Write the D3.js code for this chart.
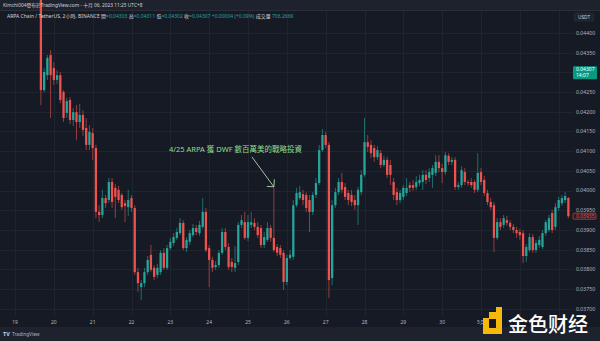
<!DOCTYPE html>
<html><head><meta charset="utf-8">
<script src="https://cdn.jsdelivr.net/npm/d3@7"></script>
<style>
html,body{margin:0;padding:0;background:#161a25;}
svg{display:block;}
text{font-family:"Noto Sans","Noto Sans CJK TC",sans-serif;}
</style></head><body>
<svg id="c" width="600" height="341"></svg>
<script>
// ---------- DATA ----------
const startTime = "2023-04-19T16:00:00Z";   // first 2h bar
const intervalHours = 2;
const open = [0.04491,0.04255,0.04293,0.04344,0.04311,0.04281,0.04293,0.04250,0.04197,0.04230,
0.04179,0.04199,0.04174,0.04192,0.04159,0.04116,0.04146,0.04108,0.03946,0.03938,
0.03981,0.03976,0.04022,0.04007,0.04002,0.03989,0.03968,0.03958,0.03981,0.03956,
0.03793,0.03755,0.03765,0.03793,0.03837,0.03804,0.03786,0.03793,0.03842,0.03804,
0.03854,0.03867,0.03880,0.03892,0.03918,0.03854,0.03870,0.03887,0.03905,0.03892,
0.03908,0.03946,0.03854,0.03824,0.03806,0.03811,0.03842,0.03895,0.03857,0.03819,
0.03804,0.03819,0.03913,0.03920,0.03880,0.03913,0.03918,0.03908,0.03905,0.03862,
0.03875,0.03905,0.03880,0.03857,0.03854,0.03842,0.03768,0.03829,0.03832,0.03963,
0.03981,0.03991,0.03989,0.03976,0.03946,0.03989,0.04019,0.04103,0.04141,0.04116,
0.03778,0.03963,0.03996,0.04022,0.04009,0.03994,0.03989,0.03976,0.03963,0.03996,
0.04040,0.04123,0.04116,0.04108,0.04085,0.04095,0.04065,0.04078,0.04065,0.04022,
0.03996,0.03976,0.03984,0.03994,0.04014,0.04014,0.04009,0.04019,0.04022,0.04040,
0.04032,0.04040,0.04045,0.04073,0.04057,0.04047,0.04088,0.04073,0.04078,0.04009,
0.04014,0.04047,0.04022,0.04022,0.04022,0.04002,0.04047,0.04027,0.03994,0.03971,
0.03963,0.03880,0.03920,0.03913,0.03925,0.03918,0.03908,0.03900,0.03895,0.03892,
0.03834,0.03849,0.03882,0.03849,0.03862,0.03857,0.03892,0.03900,0.03943,0.03908,
0.03956,0.03968,0.03976,0.03981];
const close = [0.04255,0.04301,0.04337,0.04293,0.04281,0.04293,0.04230,0.04184,0.04227,0.04179,
0.04199,0.04174,0.04192,0.04154,0.04116,0.04149,0.04108,0.03946,0.03938,0.03981,
0.03968,0.04022,0.03971,0.03984,0.03976,0.03958,0.03961,0.03976,0.03956,0.03793,
0.03765,0.03765,0.03793,0.03824,0.03799,0.03781,0.03804,0.03842,0.03804,0.03854,
0.03870,0.03882,0.03895,0.03918,0.03854,0.03875,0.03892,0.03905,0.03895,0.03913,
0.03946,0.03849,0.03824,0.03804,0.03811,0.03842,0.03895,0.03857,0.03806,0.03806,
0.03816,0.03913,0.03925,0.03880,0.03920,0.03920,0.03908,0.03887,0.03862,0.03882,
0.03905,0.03880,0.03849,0.03842,0.03837,0.03768,0.03829,0.03837,0.03963,0.03994,
0.03996,0.03976,0.03956,0.03946,0.03989,0.04019,0.04103,0.04141,0.04116,0.03773,
0.03963,0.03996,0.04022,0.04002,0.03984,0.03976,0.03971,0.03963,0.04002,0.04040,
0.04123,0.04111,0.04095,0.04085,0.04103,0.04065,0.04078,0.04040,0.04040,0.03989,
0.03976,0.03994,0.04007,0.04007,0.04007,0.04007,0.04022,0.04027,0.04040,0.04027,
0.04047,0.04057,0.04073,0.04057,0.04047,0.04090,0.04073,0.04078,0.04009,0.04014,
0.04052,0.04022,0.04019,0.04014,0.04002,0.04045,0.04022,0.03994,0.03971,0.03958,
0.03880,0.03920,0.03908,0.03930,0.03918,0.03908,0.03900,0.03892,0.03887,0.03834,
0.03857,0.03882,0.03849,0.03867,0.03875,0.03892,0.03920,0.03930,0.03900,0.03958,
0.03976,0.03981,0.03986,0.03935];
const high = [0.04504,0.04311,0.04344,0.04357,0.04326,0.04306,0.04301,0.04255,0.04235,0.04237,
0.04210,0.04217,0.04220,0.04204,0.04184,0.04166,0.04159,0.04116,0.03963,0.04002,
0.03989,0.04032,0.04032,0.04017,0.04012,0.03994,0.03976,0.04002,0.03989,0.03963,
0.03804,0.03773,0.03804,0.03834,0.03862,0.03811,0.03814,0.03849,0.03854,0.03862,
0.03880,0.03892,0.03905,0.03930,0.03925,0.03882,0.03900,0.03915,0.03913,0.03923,
0.03981,0.03956,0.03862,0.03832,0.03821,0.03849,0.03905,0.03905,0.03867,0.03829,
0.03859,0.03920,0.03938,0.03946,0.03938,0.03946,0.03930,0.03920,0.03913,0.03895,
0.03920,0.03913,0.04007,0.03864,0.03862,0.03849,0.03837,0.03849,0.03976,0.04007,
0.04012,0.04002,0.03996,0.03989,0.03996,0.04032,0.04116,0.04156,0.04149,0.04123,
0.03976,0.04007,0.04032,0.04045,0.04019,0.04002,0.04002,0.03989,0.04009,0.04052,
0.04184,0.04141,0.04128,0.04116,0.04113,0.04103,0.04088,0.04085,0.04078,0.04032,
0.04007,0.04002,0.04014,0.04032,0.04022,0.04027,0.04037,0.04040,0.04052,0.04052,
0.04057,0.04065,0.04090,0.04090,0.04068,0.04098,0.04095,0.04085,0.04085,0.04022,
0.04062,0.04057,0.04027,0.04032,0.04027,0.04095,0.04057,0.04037,0.04002,0.03981,
0.03971,0.03930,0.03930,0.03938,0.03936,0.03925,0.03915,0.03908,0.03903,0.03900,
0.03864,0.03892,0.03890,0.03875,0.03885,0.03900,0.03925,0.03938,0.03951,0.03968,
0.03984,0.03989,0.03996,0.03984];
const low = [0.04217,0.04250,0.04281,0.04184,0.04268,0.04271,0.04222,0.04174,0.04184,0.04169,
0.04164,0.04128,0.04159,0.04139,0.04103,0.04103,0.04078,0.03930,0.03920,0.03930,
0.03956,0.03968,0.03956,0.03930,0.03968,0.03951,0.03920,0.03936,0.03946,0.03786,
0.03743,0.03722,0.03755,0.03786,0.03793,0.03773,0.03778,0.03786,0.03799,0.03799,
0.03849,0.03859,0.03875,0.03887,0.03849,0.03844,0.03862,0.03882,0.03887,0.03885,
0.03903,0.03844,0.03755,0.03793,0.03799,0.03804,0.03837,0.03849,0.03799,0.03793,
0.03793,0.03811,0.03905,0.03875,0.03872,0.03905,0.03900,0.03880,0.03854,0.03854,
0.03870,0.03870,0.03844,0.03834,0.03829,0.03748,0.03760,0.03824,0.03824,0.03958,
0.03976,0.03963,0.03946,0.03895,0.03938,0.03981,0.04014,0.04098,0.04108,0.03727,
0.03760,0.03956,0.03989,0.03994,0.03976,0.03963,0.03961,0.03951,0.03913,0.03989,
0.04035,0.04098,0.04083,0.04073,0.04078,0.04057,0.04060,0.04032,0.04014,0.03976,
0.03963,0.03968,0.03976,0.03986,0.03996,0.03999,0.04002,0.04012,0.04002,0.04017,
0.04022,0.04007,0.04037,0.04047,0.04019,0.04040,0.04065,0.04065,0.04002,0.04002,
0.04007,0.04014,0.04012,0.04007,0.03994,0.03996,0.04014,0.03986,0.03963,0.03951,
0.03844,0.03875,0.03900,0.03905,0.03910,0.03900,0.03892,0.03880,0.03875,0.03816,
0.03819,0.03844,0.03842,0.03842,0.03854,0.03852,0.03885,0.03895,0.03892,0.03900,
0.03948,0.03961,0.03968,0.03930];
const priceTicks = [0.03700,0.03750,0.03800,0.03850,0.03900,0.03950,0.04000,0.04050,
                    0.04100,0.04150,0.04200,0.04250,0.04300,0.04350,0.04400];
const dayTicks = ["2023-04-19","2023-04-20","2023-04-21","2023-04-22","2023-04-23","2023-04-24",
                  "2023-04-25","2023-04-26","2023-04-27","2023-04-28","2023-04-29","2023-04-30",
                  "2023-05-01","2023-05-02","2023-05-03"];
const dayLabels = ["19","20","21","22","23","24","25","26","27","28","29","30","5月"];
const currentPrice = 0.04307, currentCountdown = "14:07";
const lastPrice = 0.03935;
const annotation = {index:72, text:"4/25 ARPA 獲 DWF 數百萬美的戰略投資"};
const titleText = "Kimchi004發布於TradingView.com - 十月 06, 2023 11:25 UTC+8";
const symbolText = "ARPA Chain / TetherUS, 2小時, BINANCE";
const legend = [["開","=0.04303"],["高","=0.04311"],["低","=0.04302"],["收","=0.04307 +0.00004 (+0.09%)"],["成交量"," 706.266K"]];

// ---------- LAYOUT ----------
const W=600,H=341, plotR=573, plotB=316;
const UP="#26a69a", DN="#ef5350", BG="#161a25", GRID="#20242f", TXT="#b2b5be";
const svg=d3.select("#c");
svg.append("rect").attr("width",W).attr("height",H).attr("fill",BG);

const x=d3.scaleUtc().domain([d3.isoParse("2023-04-19T00:00:00Z"),d3.isoParse("2023-05-01T00:00:00Z")]).range([15,481]);
const y=d3.scaleLinear().domain([0.037,0.044]).range([308.8,33]);
const t0=d3.isoParse(startTime);
const bars=open.map((o,i)=>({t:new Date(+t0+i*intervalHours*3600e3),o,c:close[i],h:high[i],l:low[i]}));
const step=x(new Date(+t0+intervalHours*3600e3))-x(t0);
const bw=step*0.7;

// grid
const grid=svg.append("g");
grid.selectAll(".gy").data(priceTicks).join("line").attr("x1",0).attr("x2",plotR)
  .attr("y1",d=>Math.round(y(d))+0.5).attr("y2",d=>Math.round(y(d))+0.5).attr("stroke",GRID);
grid.selectAll(".gx").data(dayTicks).join("line")
  .attr("x1",d=>Math.round(x(d3.isoParse(d+"T00:00:00Z")))+0.5).attr("x2",d=>Math.round(x(d3.isoParse(d+"T00:00:00Z")))+0.5)
  .attr("y1",10).attr("y2",plotB).attr("stroke",GRID);

// top strip
svg.append("rect").attr("width",W).attr("height",10).attr("fill","#1e222d");
svg.append("line").attr("x1",0).attr("x2",W).attr("y1",10.5).attr("y2",10.5).attr("stroke","#2a2e39");
// bottom strip
svg.append("rect").attr("y",327).attr("width",W).attr("height",H-327).attr("fill","#1e222d");

// candles
svg.append("clipPath").attr("id","pc").append("rect").attr("x",0).attr("y",0).attr("width",plotR).attr("height",plotB);
const cg=svg.append("g").attr("clip-path","url(#pc)");
cg.selectAll(".w").data(bars).join("line")
  .attr("x1",d=>x(d.t)).attr("x2",d=>x(d.t)).attr("y1",d=>y(d.h)).attr("y2",d=>y(d.l))
  .attr("stroke",d=>d.c>=d.o?UP:DN).attr("stroke-width",0.8).attr("stroke-opacity",0.75);
cg.selectAll(".b").data(bars).join("rect")
  .attr("x",d=>x(d.t)-bw/2).attr("width",bw)
  .attr("y",d=>y(Math.max(d.o,d.c))).attr("height",d=>Math.max(0.8,Math.abs(y(d.o)-y(d.c))))
  .attr("fill",d=>d.c>=d.o?UP:DN);

// price axis
const cy=y(currentPrice), ly=y(lastPrice);
const pa=svg.append("g");
pa.selectAll("text").data(priceTicks.filter(p=>Math.abs(y(p)-(cy+3))>8))
  .join("text").attr("x",576).attr("y",d=>y(d)+1.8)
  .attr("font-size",5.2).attr("fill",TXT).text(d=>d3.format(".5f")(d));
// USDT box
pa.append("rect").attr("x",574.5).attr("y",13).attr("width",19).attr("height",8).attr("rx",1).attr("fill","#1e222d").attr("stroke","#363a45").attr("stroke-width",0.5);
pa.append("text").attr("x",584).attr("y",18.8).attr("text-anchor","middle").attr("font-size",4.8).attr("fill","#d1d4dc").text("USDT");
// current price tag
pa.append("rect").attr("x",573).attr("y",cy-3.5).attr("width",24).attr("height",13).attr("rx",1).attr("fill","#089981");
pa.append("text").attr("x",576).attr("y",cy+1.6).attr("font-size",5).attr("fill","#fff").text(d3.format(".5f")(currentPrice));
pa.append("text").attr("x",576).attr("y",cy+7.8).attr("font-size",5).attr("fill","#fff").text(currentCountdown);
// last price tag
pa.append("rect").attr("x",573).attr("y",ly-3).attr("width",23).attr("height",6).attr("rx",1).attr("fill","#2a1a22").attr("stroke",DN).attr("stroke-width",0.6);
pa.append("text").attr("x",576).attr("y",ly+1.8).attr("font-size",5).attr("fill",DN).text(d3.format(".5f")(lastPrice));

// time axis
const ta=svg.append("g");
ta.selectAll("text").data(dayLabels).join("text")
  .attr("x",(d,i)=>x(d3.isoParse(dayTicks[i]+"T00:00:00Z"))).attr("y",323.5)
  .attr("text-anchor","middle").attr("font-size",5).attr("fill",TXT).text(d=>d);

// header
svg.append("text").attr("x",3).attr("y",6.8).attr("font-size",4.8).attr("fill","#d1d4dc").text(titleText);
const lg=svg.append("text").attr("x",7).attr("y",17.6).attr("font-size",5).attr("fill","#d1d4dc");
lg.append("tspan").text(symbolText+"  ");
legend.forEach(([k,v])=>{lg.append("tspan").attr("fill","#d1d4dc").text(" "+k);lg.append("tspan").attr("fill",UP).text(v+" ");});

// annotation
const ab=bars[annotation.index];
const tipX=x(ab.t), tipY=y(ab.h)-1;
const tailX=tipX-22, tailY=tipY-30;
const AC="#c9f0c0";
svg.append("line").attr("x1",tailX).attr("y1",tailY).attr("x2",tipX).attr("y2",tipY).attr("stroke",AC).attr("stroke-width",0.8);
svg.append("path").attr("d",`M${tipX-7},${tipY-0.5}L${tipX},${tipY}L${tipX+0.5},${tipY-7.5}`).attr("fill","none").attr("stroke",AC).attr("stroke-width",0.8);
svg.append("text").attr("x",tailX-83).attr("y",tailY-4.5).attr("font-size",7.5).attr("fill","#8fdc8f")
  .attr("font-family","'Noto Sans CJK TC',sans-serif").text(annotation.text);

// TradingView footer
svg.append("text").attr("x",3).attr("y",336).attr("font-size",5.5).attr("font-weight","bold").attr("fill","#d1d4dc").text("TV");
svg.append("text").attr("x",12).attr("y",336).attr("font-size",4.8).attr("fill","#b2b5be").text("TradingView");

// watermark
const wm=svg.append("g");
const Y="#f5b80b";
wm.append("rect").attr("x",489).attr("y",312).attr("width",7).attr("height",7).attr("fill",Y);
wm.append("path").attr("d","M496,307H502V334H483V318H489V328H496Z").attr("fill",Y);
wm.append("text").attr("x",508).attr("y",332).attr("font-size",20).attr("fill","#fff")
  .attr("font-family","'Noto Sans CJK SC',sans-serif").attr("font-weight",500).text("金色财经");
</script></body></html>
